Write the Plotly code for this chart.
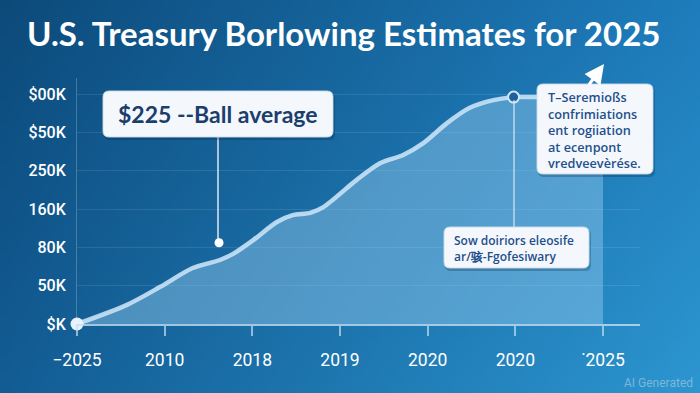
import base64, struct, zlib
import plotly.graph_objects as go

# ---------------- data ----------------
x_labels = ["\u22122025", "2010", "2018", "2019", "2020", "2020", "\u02d92025"]
x_ticks = [0, 1, 2, 3, 4, 5, 6]
y_labels = ["$K", "50K", "80K", "160K", "250K", "$50K", "$00K"]
y_ticks = [0, 1, 2, 3, 4, 5, 6]

curve_x = [0, 0.57, 0.95, 1.32, 1.63, 1.78, 2.01, 2.28, 2.46, 2.66, 2.81, 3.19, 3.46, 3.72, 3.95, 4.22, 4.48, 4.75, 4.98, 5.28, 6.0]
curve_y = [0, 0.50, 0.97, 1.46, 1.67, 1.83, 2.19, 2.66, 2.84, 2.90, 3.05, 3.76, 4.20, 4.41, 4.72, 5.24, 5.64, 5.84, 5.92, 5.92, 5.97]

avg_point = (1.62, 2.12)
peak_point = (4.98, 5.92)

title = "U.S. Treasury Borlowing Estimates for 2025"
label_avg = "$225 --Ball average"
label_right = ["T\u2013Seremio\u00dfs", "confrimiations", "ent rogiiation", "at ecenpont", "vredveev\u00e8r\u00e9se."]
label_low = ["Sow doiriors eleosife", "ar/\u9a87-Fgofesiwary"]
watermark = "AI Generated"

W, H = 700, 393

# ---------------- background gradient image ----------------
def gradient_png(w, h, tl, tr, bl, br):
    rows = b""
    for j in range(h):
        v = j / (h - 1)
        row = b"\x00"
        for i in range(w):
            u = i / (w - 1)
            px = []
            for k in range(3):
                top = tl[k] * (1 - u) + tr[k] * u
                bot = bl[k] * (1 - u) + br[k] * u
                px.append(int(round(top * (1 - v) + bot * v)))
            row += bytes(px)
        rows += row
    def chunk(t, d):
        c = struct.pack(">I", len(d)) + t + d
        return c + struct.pack(">I", zlib.crc32(t + d) & 0xffffffff)
    png = b"\x89PNG\r\n\x1a\n"
    png += chunk(b"IHDR", struct.pack(">IIBBBBB", w, h, 8, 2, 0, 0, 0))
    png += chunk(b"IDAT", zlib.compress(rows, 9))
    png += chunk(b"IEND", b"")
    return "data:image/png;base64," + base64.b64encode(png).decode()

bg = gradient_png(140, 80, (12, 74, 122), (30, 124, 188), (18, 92, 148), (44, 150, 208))

# ---------------- geometry helpers (pixel -> paper) ----------------
def px(x):
    return x / W

def py(y):
    return 1 - y / H

x0_px, x1_px = 77, 640
unit_x = 87.67
y0_px, y1_px = 324, 78
unit_y = 38.33
xr = [0, (x1_px - x0_px) / unit_x]
yr = [0, (y0_px - y1_px) / unit_y]

fig = go.Figure()

fig.add_trace(go.Scatter(
    x=curve_x, y=curve_y, mode="lines", line=dict(color="rgba(200,226,246,0.9)", width=4.5, shape="spline", smoothing=0.8),
    fill="tozeroy", fillcolor="rgba(150,205,240,0.44)", hoverinfo="skip", cliponaxis=False,
))
fig.add_trace(go.Scatter(
    x=[curve_x[0]], y=[curve_y[0]], mode="markers", marker=dict(size=13, color="#e8f2fa"), cliponaxis=False,
))
fig.add_trace(go.Scatter(
    x=[avg_point[0]], y=[avg_point[1]], mode="markers", marker=dict(size=9, color="white"), cliponaxis=False,
))
fig.add_trace(go.Scatter(
    x=[peak_point[0]], y=[peak_point[1]], mode="markers",
    marker=dict(size=11, color="#1f5f9a", line=dict(color="#cfe6f7", width=2)), cliponaxis=False,
))

def rrect(x0, y0, x1, y1, r=6):
    a, b, c, d = px(x0), py(y1), px(x1), py(y0)
    rx, ry = r / W, r / H
    return (f"M {a+rx},{b} L {c-rx},{b} Q {c},{b} {c},{b+ry} L {c},{d-ry} Q {c},{d} {c-rx},{d} "
            f"L {a+rx},{d} Q {a},{d} {a},{d-ry} L {a},{b+ry} Q {a},{b} {a+rx},{b} Z")

shapes = []
# connector lines
shapes.append(dict(type="line", xref="paper", yref="paper", x0=px(218), x1=px(218), y0=py(137), y1=py(241),
                   line=dict(color="rgba(255,255,255,0.85)", width=1.5)))
shapes.append(dict(type="line", xref="paper", yref="paper", x0=px(514), x1=px(514), y0=py(100), y1=py(227),
                   line=dict(color="rgba(225,238,248,0.75)", width=1.5)))
# boxes (shadow + box)
for (a, b, c, d) in [(103, 91, 333, 137), (537, 84, 653, 174), (444, 227, 589, 268)]:
    shapes.append(dict(type="path", xref="paper", yref="paper", path=rrect(a + 1, b + 2, c + 2, d + 3),
                       fillcolor="rgba(0,30,60,0.25)", line=dict(width=0)))
    shapes.append(dict(type="path", xref="paper", yref="paper", path=rrect(a, b, c, d),
                       fillcolor="#f4f8fc", line=dict(color="rgba(200,220,235,0.9)", width=1)))

annotations = [
    dict(text=f"<b>{title}</b>", xref="paper", yref="paper", x=px(25), y=py(33), xanchor="left", yanchor="middle",
         showarrow=False, font=dict(family="Lato", size=33, color="white")),
    dict(text=label_avg, xref="paper", yref="paper", x=px(218), y=py(114), xanchor="center", yanchor="middle",
         showarrow=False, font=dict(family="Lato", size=23, color="#1b3e6c", weight=700)),
    dict(text="", xref="paper", yref="paper", x=px(604), y=py(64), ax=-16, ay=22,
         showarrow=True, arrowhead=2, arrowsize=1.3, arrowwidth=3, arrowcolor="white"),
    dict(text=watermark, xref="paper", yref="paper", x=px(695), y=py(383), xanchor="right", yanchor="middle",
         showarrow=False, font=dict(family="Roboto", size=12, color="rgba(200,215,228,0.55)")),
    dict(text="<br>".join(label_right), xref="paper", yref="paper", x=px(546), y=py(130), xanchor="left",
         yanchor="middle", align="left", showarrow=False,
         font=dict(family="Open Sans", size=12.7, color="#1f4f8c", weight=600)),
    dict(text="<br>".join(label_low), xref="paper", yref="paper", x=px(452), y=py(248), xanchor="left",
         yanchor="middle", align="left", showarrow=False,
         font=dict(family="Open Sans", size=12, color="#1f4f8c", weight=600)),
]

fig.update_layout(
    width=W, height=H, margin=dict(l=0, r=0, t=0, b=0, autoexpand=False),
    paper_bgcolor="#155f96", plot_bgcolor="rgba(0,0,0,0)", showlegend=False,
    images=[dict(source=bg, xref="paper", yref="paper", x=0, y=1, sizex=1, sizey=1, sizing="stretch", layer="below")],
    shapes=shapes, annotations=annotations,
    xaxis=dict(domain=[px(x0_px), px(x1_px)], range=xr, tickvals=x_ticks, ticktext=x_labels, automargin=False,
               showgrid=False, zeroline=False, showline=True, linecolor="rgba(195,222,242,0.8)", linewidth=2,
               ticks="outside", ticklen=10, tickwidth=1.5, tickcolor="rgba(195,222,242,0.7)",
               tickfont=dict(family="Roboto", size=17.5, color="white"), ticklabelstandoff=9, fixedrange=True),
    yaxis=dict(domain=[py(y0_px), py(y1_px)], range=yr, tickvals=y_ticks, ticktext=y_labels, automargin=False,
               showgrid=True, gridcolor="rgba(255,255,255,0.10)", gridwidth=1, zeroline=False,
               showline=True, linecolor="rgba(255,255,255,0.22)", linewidth=1, ticks="",
               tickfont=dict(family="Roboto", size=16, color="white", weight=500), ticklabelstandoff=7, fixedrange=True),
)

fig.write_html("out.html", config={"displayModeBar": False},
               post_script="document.body.style.margin='0';document.body.style.padding='0';document.body.style.overflow='hidden';")
